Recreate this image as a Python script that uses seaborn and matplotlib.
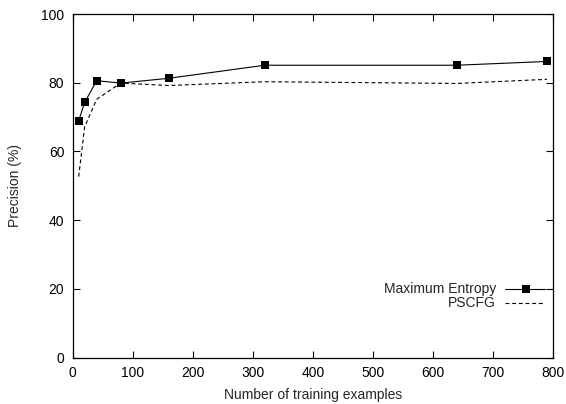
import matplotlib
matplotlib.use("Agg")
import matplotlib.pyplot as plt
from matplotlib.lines import Line2D
import seaborn as sns
import pandas as pd

# Training set sizes and precision scores
train_sizes = [10, 20, 40, 80, 160, 320, 640, 790]
maxent_precision = [68.9, 74.3, 80.6, 79.9, 81.3, 85.1, 85.1, 86.2]
pscfg_sizes = [10, 20, 40, 80, 160, 320, 640, 790]
pscfg_precision = [52.7, 67.2, 75.2, 79.9, 79.2, 80.3, 79.8, 81.0]

x_ticks = [0, 100, 200, 300, 400, 500, 600, 700, 800]
y_ticks = [0, 20, 40, 60, 80, 100]

sns.set_style("ticks")
plt.rcParams["font.family"] = ["Liberation Sans", "DejaVu Sans"]
plt.rcParams["font.size"] = 10

fig = plt.figure(figsize=(5.66, 4.04), dpi=100)
ax = fig.add_axes([0.1284, 0.1146, 0.977 - 0.1284, 0.9653 - 0.1146])

me = pd.DataFrame({"n": train_sizes, "p": maxent_precision})
ps = pd.DataFrame({"n": pscfg_sizes, "p": pscfg_precision})

sns.lineplot(data=me, x="n", y="p", ax=ax, color="black", lw=0.8,
             marker="s", markersize=5.5, markeredgewidth=0, clip_on=False)
sns.lineplot(data=ps, x="n", y="p", ax=ax, color="black", lw=0.8,
             linestyle=(0, (3.5, 2.5)))

ax.set_xlim(0, 800)
ax.set_ylim(0, 100)
ax.set_xticks(x_ticks)
ax.set_yticks(y_ticks)
ax.set_xlabel("Number of training examples", fontsize=10, labelpad=6)
ax.set_ylabel("Precision (%)", fontsize=10, labelpad=14)
ax.tick_params(direction="in", length=5, width=0.8, top=True, right=True,
               labelsize=10, pad=6, colors="black")
for s in ax.spines.values():
    s.set_visible(True)
    s.set_linewidth(0.9)
    s.set_color("black")

# Key in the lower right, text right-aligned before each sample line
entries = [
    ("Maximum Entropy", dict(color="black", lw=0.8, marker="s", markersize=5.5,
                              markeredgewidth=0, markevery=[1])),
    ("PSCFG", dict(color="black", lw=0.8, linestyle=(0, (3.5, 2.5)))),
]
y_rows = [0.199, 0.159]
for (label, style), yr in zip(entries, y_rows):
    ax.text(0.881, yr, label, transform=ax.transAxes, ha="right", va="center",
            fontsize=10)
    ax.add_line(Line2D([0.900, 0.943, 0.983], [yr, yr, yr],
                       transform=ax.transAxes, **style))

fig.savefig("out.png", dpi=100)
